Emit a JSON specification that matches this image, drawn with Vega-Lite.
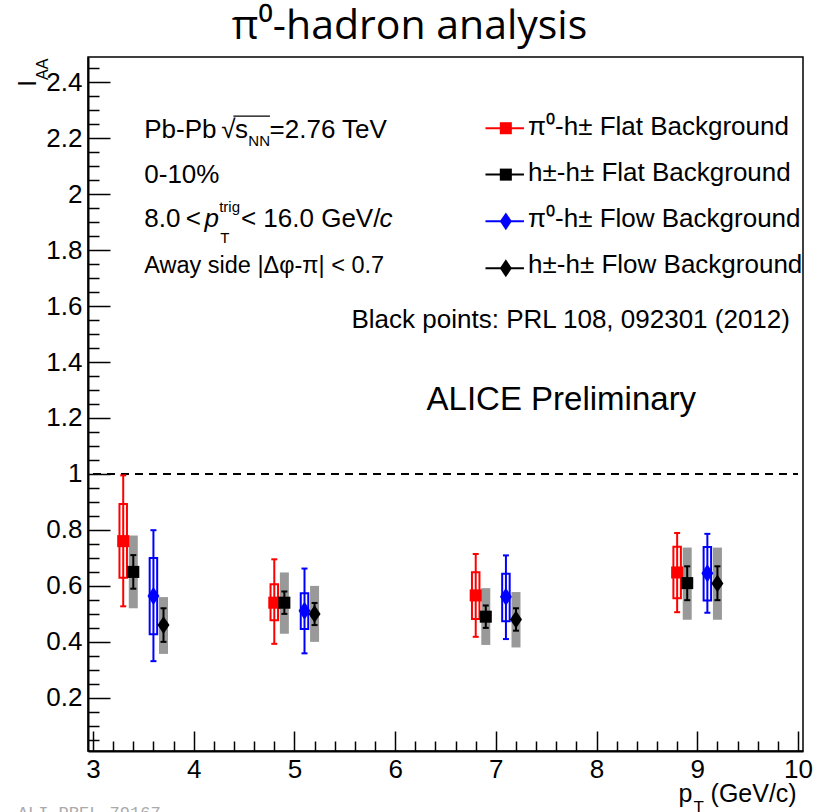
{
  "$schema": "https://vega.github.io/schema/vega-lite/v6.json",
  "width": 715,
  "height": 694,
  "autosize": {"type": "none"},
  "padding": {"left": 88, "top": 57, "right": 14, "bottom": 61},
  "background": "white",
  "config": {
    "view": {"stroke": "#000000", "strokeWidth": 1.5},
    "font": "Liberation Sans"
  },
  "datasets": {
    "pts": [
      {"series": "π⁰-h± Flat Background", "pt": 3.3, "iaa": 0.76, "stat_lo": 0.527, "stat_hi": 0.995, "sys_lo": 0.629, "sys_hi": 0.893},
      {"series": "π⁰-h± Flat Background", "pt": 4.8, "iaa": 0.54, "stat_lo": 0.393, "stat_hi": 0.695, "sys_lo": 0.477, "sys_hi": 0.606},
      {"series": "π⁰-h± Flat Background", "pt": 6.8, "iaa": 0.566, "stat_lo": 0.418, "stat_hi": 0.714, "sys_lo": 0.482, "sys_hi": 0.649},
      {"series": "π⁰-h± Flat Background", "pt": 8.8, "iaa": 0.648, "stat_lo": 0.506, "stat_hi": 0.789, "sys_lo": 0.556, "sys_hi": 0.74},
      {"series": "h±-h± Flat Background", "pt": 3.4, "iaa": 0.65, "stat_lo": 0.59, "stat_hi": 0.71, "sys_lo": 0.52, "sys_hi": 0.78},
      {"series": "h±-h± Flat Background", "pt": 4.9, "iaa": 0.54, "stat_lo": 0.5, "stat_hi": 0.58, "sys_lo": 0.429, "sys_hi": 0.648},
      {"series": "h±-h± Flat Background", "pt": 6.9, "iaa": 0.49, "stat_lo": 0.45, "stat_hi": 0.53, "sys_lo": 0.389, "sys_hi": 0.592},
      {"series": "h±-h± Flat Background", "pt": 8.9, "iaa": 0.61, "stat_lo": 0.549, "stat_hi": 0.67, "sys_lo": 0.479, "sys_hi": 0.737},
      {"series": "π⁰-h± Flow Background", "pt": 3.6, "iaa": 0.564, "stat_lo": 0.331, "stat_hi": 0.799, "sys_lo": 0.427, "sys_hi": 0.7},
      {"series": "π⁰-h± Flow Background", "pt": 5.1, "iaa": 0.511, "stat_lo": 0.359, "stat_hi": 0.662, "sys_lo": 0.446, "sys_hi": 0.574},
      {"series": "π⁰-h± Flow Background", "pt": 7.1, "iaa": 0.561, "stat_lo": 0.41, "stat_hi": 0.709, "sys_lo": 0.474, "sys_hi": 0.643},
      {"series": "π⁰-h± Flow Background", "pt": 9.1, "iaa": 0.645, "stat_lo": 0.504, "stat_hi": 0.786, "sys_lo": 0.548, "sys_hi": 0.739},
      {"series": "h±-h± Flow Background", "pt": 3.7, "iaa": 0.46, "stat_lo": 0.4, "stat_hi": 0.52, "sys_lo": 0.357, "sys_hi": 0.56},
      {"series": "h±-h± Flow Background", "pt": 5.2, "iaa": 0.5, "stat_lo": 0.46, "stat_hi": 0.539, "sys_lo": 0.4, "sys_hi": 0.6},
      {"series": "h±-h± Flow Background", "pt": 7.2, "iaa": 0.48, "stat_lo": 0.44, "stat_hi": 0.52, "sys_lo": 0.38, "sys_hi": 0.578},
      {"series": "h±-h± Flow Background", "pt": 9.2, "iaa": 0.609, "stat_lo": 0.549, "stat_hi": 0.67, "sys_lo": 0.479, "sys_hi": 0.737}
    ]
  },
  "data": {"name": "pts"},
  "resolve": {"axis": {"x": "independent", "y": "independent"}},
  "layer": [
    {
      "mark": {"type": "point", "opacity": 0},
      "encoding": {
        "x": {"field": "pt", "type": "quantitative", "scale": {"domain": [3, 10], "nice": false, "zero": false},
          "axis": {"orient": "bottom", "values": [3, 4, 5, 6, 7, 8, 9, 10], "ticks": false, "domain": true, "domainColor": "#000000", "domainWidth": 2, "grid": false, "title": null, "labelFont": "Liberation Sans", "labelFontSize": 26, "labelColor": "#000000", "labelPadding": 5, "labelFlush": false, "labelOverlap": false}},
        "y": {"field": "iaa", "type": "quantitative", "scale": {"domain": [0.01, 2.49], "nice": false, "zero": false},
          "axis": {"orient": "left", "values": [0.2, 0.4, 0.6, 0.8, 1, 1.2, 1.4, 1.6, 1.8, 2, 2.2, 2.4], "format": "~g", "ticks": false, "domain": true, "domainColor": "#000000", "domainWidth": 2, "grid": false, "title": null, "labelFont": "Liberation Sans", "labelFontSize": 26, "labelColor": "#000000", "labelPadding": 6, "labelFlush": false, "labelOverlap": false}}
      }
    },
    {
      "mark": {"type": "point", "opacity": 0},
      "encoding": {
        "x": {"field": "pt", "type": "quantitative",
          "axis": {"orient": "bottom", "values": [3, 4, 5, 6, 7, 8, 9, 10], "labels": false, "domain": false, "ticks": true, "tickSize": -20, "tickWidth": 1.5, "tickColor": "#000000", "grid": false, "title": null}},
        "y": {"field": "iaa", "type": "quantitative",
          "axis": {"orient": "left", "values": [0.2, 0.4, 0.6, 0.8, 1, 1.2, 1.4, 1.6, 1.8, 2, 2.2, 2.4], "labels": false, "domain": false, "ticks": true, "tickSize": -22, "tickWidth": 1.5, "tickColor": "#000000", "grid": false, "title": null}}
      }
    },
    {
      "mark": {"type": "point", "opacity": 0},
      "encoding": {
        "x": {"field": "pt", "type": "quantitative",
          "axis": {"orient": "bottom", "values": [3.2, 3.4, 3.6, 3.8, 4.2, 4.4, 4.6, 4.8, 5.2, 5.4, 5.6, 5.8, 6.2, 6.4, 6.6, 6.8, 7.2, 7.4, 7.6, 7.8, 8.2, 8.4, 8.6, 8.8, 9.2, 9.4, 9.6, 9.8], "labels": false, "domain": false, "ticks": true, "tickSize": -10, "tickWidth": 1.5, "tickColor": "#000000", "grid": false, "title": null}},
        "y": {"field": "iaa", "type": "quantitative",
          "axis": {"orient": "left", "values": [0.05, 0.1, 0.15, 0.25, 0.3, 0.35, 0.45, 0.5, 0.55, 0.65, 0.7, 0.75, 0.85, 0.9, 0.95, 1.05, 1.1, 1.15, 1.25, 1.3, 1.35, 1.45, 1.5, 1.55, 1.65, 1.7, 1.75, 1.85, 1.9, 1.95, 2.05, 2.1, 2.15, 2.25, 2.3, 2.35, 2.45], "labels": false, "domain": false, "ticks": true, "tickSize": -11, "tickWidth": 1.5, "tickColor": "#000000", "grid": false, "title": null}}
      }
    },
    {
      "data": {"values": [{}]},
      "mark": {"type": "rule", "color": "#000000", "strokeWidth": 2, "strokeDash": [8, 6]},
      "encoding": {
        "x": {"datum": 3, "type": "quantitative", "axis": null},
        "x2": {"datum": 10},
        "y": {"datum": 1, "type": "quantitative", "axis": null}
      }
    },
    {
      "transform": [{"filter": {"field": "series", "oneOf": ["π⁰-h± Flat Background", "π⁰-h± Flow Background"]}}],
      "mark": {"type": "bar", "width": 7.5, "filled": false, "strokeWidth": 2},
      "encoding": {
        "x": {"field": "pt", "type": "quantitative", "axis": null},
        "y": {"field": "sys_lo", "type": "quantitative", "axis": null},
        "y2": {"field": "sys_hi"},
        "color": {"field": "series", "type": "nominal", "legend": null,
          "scale": {"domain": ["π⁰-h± Flat Background", "h±-h± Flat Background", "π⁰-h± Flow Background", "h±-h± Flow Background"], "range": ["#ff0000", "#000000", "#0000ff", "#000000"]}}
      }
    },
    {
      "transform": [{"filter": {"field": "series", "oneOf": ["h±-h± Flat Background", "h±-h± Flow Background"]}}],
      "mark": {"type": "bar", "width": 9, "color": "#999999"},
      "encoding": {
        "x": {"field": "pt", "type": "quantitative", "axis": null},
        "y": {"field": "sys_lo", "type": "quantitative", "axis": null},
        "y2": {"field": "sys_hi"}
      }
    },
    {
      "mark": {"type": "rule", "strokeWidth": 2},
      "encoding": {
        "x": {"field": "pt", "type": "quantitative", "axis": null},
        "y": {"field": "stat_lo", "type": "quantitative", "axis": null},
        "y2": {"field": "stat_hi"},
        "color": {"field": "series", "type": "nominal", "legend": null}
      }
    },
    {
      "transform": [{"fold": ["stat_lo", "stat_hi"], "as": ["end", "val"]}],
      "mark": {"type": "tick", "orient": "horizontal", "size": 6, "thickness": 2, "opacity": 1},
      "encoding": {
        "x": {"field": "pt", "type": "quantitative", "axis": null},
        "y": {"field": "val", "type": "quantitative", "axis": null},
        "color": {"field": "series", "type": "nominal", "legend": null}
      }
    },
    {
      "transform": [{"filter": {"field": "series", "oneOf": ["π⁰-h± Flat Background", "h±-h± Flat Background"]}}],
      "mark": {"type": "point", "filled": true, "shape": "square", "size": 145, "opacity": 1},
      "encoding": {
        "x": {"field": "pt", "type": "quantitative", "axis": null},
        "y": {"field": "iaa", "type": "quantitative", "axis": null},
        "color": {"field": "series", "type": "nominal", "legend": null}
      }
    },
    {
      "transform": [{"filter": {"field": "series", "oneOf": ["π⁰-h± Flow Background", "h±-h± Flow Background"]}}],
      "mark": {"type": "point", "filled": true, "shape": "M0,-1L0.67,0L0,1L-0.67,0Z", "size": 320, "opacity": 1},
      "encoding": {
        "x": {"field": "pt", "type": "quantitative", "axis": null},
        "y": {"field": "iaa", "type": "quantitative", "axis": null},
        "color": {"field": "series", "type": "nominal", "legend": null}
      }
    },
    {"data": {"values": [{}]}, "mark": {"type": "rule", "color": "#ff0000", "strokeWidth": 2},
      "encoding": {"x": {"datum": 6.897, "type": "quantitative", "axis": null}, "x2": {"datum": 7.279}, "y": {"datum": 2.2355, "type": "quantitative", "axis": null}}},
    {"data": {"values": [{}]}, "mark": {"type": "rule", "color": "#000000", "strokeWidth": 2},
      "encoding": {"x": {"datum": 6.897, "type": "quantitative", "axis": null}, "x2": {"datum": 7.279}, "y": {"datum": 2.0697, "type": "quantitative", "axis": null}}},
    {"data": {"values": [{}]}, "mark": {"type": "rule", "color": "#0000ff", "strokeWidth": 2},
      "encoding": {"x": {"datum": 6.897, "type": "quantitative", "axis": null}, "x2": {"datum": 7.279}, "y": {"datum": 1.9028, "type": "quantitative", "axis": null}}},
    {"data": {"values": [{}]}, "mark": {"type": "rule", "color": "#000000", "strokeWidth": 2},
      "encoding": {"x": {"datum": 6.897, "type": "quantitative", "axis": null}, "x2": {"datum": 7.279}, "y": {"datum": 1.7352, "type": "quantitative", "axis": null}}},
    {"data": {"values": [{}]}, "mark": {"type": "point", "filled": true, "shape": "square", "size": 145, "opacity": 1, "color": "#ff0000"},
      "encoding": {"x": {"datum": 7.099, "type": "quantitative", "axis": null}, "y": {"datum": 2.2355, "type": "quantitative", "axis": null}}},
    {"data": {"values": [{}]}, "mark": {"type": "point", "filled": true, "shape": "square", "size": 145, "opacity": 1, "color": "#000000"},
      "encoding": {"x": {"datum": 7.099, "type": "quantitative", "axis": null}, "y": {"datum": 2.0697, "type": "quantitative", "axis": null}}},
    {"data": {"values": [{}]}, "mark": {"type": "point", "filled": true, "shape": "M0,-1L0.67,0L0,1L-0.67,0Z", "size": 320, "opacity": 1, "color": "#0000ff"},
      "encoding": {"x": {"datum": 7.099, "type": "quantitative", "axis": null}, "y": {"datum": 1.9028, "type": "quantitative", "axis": null}}},
    {"data": {"values": [{}]}, "mark": {"type": "point", "filled": true, "shape": "M0,-1L0.67,0L0,1L-0.67,0Z", "size": 320, "opacity": 1, "color": "#000000"},
      "encoding": {"x": {"datum": 7.099, "type": "quantitative", "axis": null}, "y": {"datum": 1.7352, "type": "quantitative", "axis": null}}},
    {"data": {"values": [{}]}, "mark": {"type": "text", "text": "π⁰-h± Flat Background", "align": "left", "baseline": "alphabetic", "font": "Liberation Sans", "fontSize": 26, "color": "#000000"},
      "encoding": {"x": {"datum": 7.32, "type": "quantitative", "axis": null}, "y": {"datum": 2.2116, "type": "quantitative", "axis": null}}},
    {"data": {"values": [{}]}, "mark": {"type": "text", "text": "h±-h± Flat Background", "align": "left", "baseline": "alphabetic", "font": "Liberation Sans", "fontSize": 26, "color": "#000000"},
      "encoding": {"x": {"datum": 7.32, "type": "quantitative", "axis": null}, "y": {"datum": 2.0456, "type": "quantitative", "axis": null}}},
    {"data": {"values": [{}]}, "mark": {"type": "text", "text": "π⁰-h± Flow Background", "align": "left", "baseline": "alphabetic", "font": "Liberation Sans", "fontSize": 26, "color": "#000000"},
      "encoding": {"x": {"datum": 7.32, "type": "quantitative", "axis": null}, "y": {"datum": 1.8839, "type": "quantitative", "axis": null}}},
    {"data": {"values": [{}]}, "mark": {"type": "text", "text": "h±-h± Flow Background", "align": "left", "baseline": "alphabetic", "font": "Liberation Sans", "fontSize": 26, "color": "#000000"},
      "encoding": {"x": {"datum": 7.32, "type": "quantitative", "axis": null}, "y": {"datum": 1.7173, "type": "quantitative", "axis": null}}},
    {"data": {"values": [{}]}, "mark": {"type": "text", "text": "π⁰-hadron analysis", "align": "center", "baseline": "alphabetic", "font": "Open Sans", "fontSize": 41, "color": "#000000"},
      "encoding": {"x": {"datum": 6.143, "type": "quantitative", "axis": null}, "y": {"datum": 2.553, "type": "quantitative", "axis": null}}},
    {"data": {"values": [{}]}, "mark": {"type": "text", "text": "Pb-Pb", "align": "left", "baseline": "alphabetic", "font": "Liberation Sans", "fontSize": 26, "color": "#000000"},
      "encoding": {"x": {"datum": 3.509, "type": "quantitative", "axis": null}, "y": {"datum": 2.2008, "type": "quantitative", "axis": null}}},
    {"data": {"values": [{}]}, "mark": {"type": "text", "text": "√", "align": "left", "baseline": "alphabetic", "font": "Liberation Sans", "fontSize": 26, "color": "#000000"},
      "encoding": {"x": {"datum": 4.273, "type": "quantitative", "axis": null}, "y": {"datum": 2.2008, "type": "quantitative", "axis": null}}},
    {"data": {"values": [{}]}, "mark": {"type": "text", "text": "s", "align": "left", "baseline": "alphabetic", "font": "Liberation Sans", "fontSize": 26, "color": "#000000"},
      "encoding": {"x": {"datum": 4.41, "type": "quantitative", "axis": null}, "y": {"datum": 2.2008, "type": "quantitative", "axis": null}}},
    {"data": {"values": [{}]}, "mark": {"type": "text", "text": "NN", "align": "left", "baseline": "alphabetic", "font": "Liberation Sans", "fontSize": 15, "color": "#000000"},
      "encoding": {"x": {"datum": 4.542, "type": "quantitative", "axis": null}, "y": {"datum": 2.1705, "type": "quantitative", "axis": null}}},
    {"data": {"values": [{}]}, "mark": {"type": "text", "text": "=2.76 TeV", "align": "left", "baseline": "alphabetic", "font": "Liberation Sans", "fontSize": 26, "color": "#000000"},
      "encoding": {"x": {"datum": 4.753, "type": "quantitative", "axis": null}, "y": {"datum": 2.2008, "type": "quantitative", "axis": null}}},
    {"data": {"values": [{}]}, "mark": {"type": "rule", "color": "#000000", "strokeWidth": 1.2},
      "encoding": {"x": {"datum": 4.394, "type": "quantitative", "axis": null}, "x2": {"datum": 4.757}, "y": {"datum": 2.279, "type": "quantitative", "axis": null}}},
    {"data": {"values": [{}]}, "mark": {"type": "text", "text": "0-10%", "align": "left", "baseline": "alphabetic", "font": "Liberation Sans", "fontSize": 26, "color": "#000000"},
      "encoding": {"x": {"datum": 3.509, "type": "quantitative", "axis": null}, "y": {"datum": 2.0401, "type": "quantitative", "axis": null}}},
    {"data": {"values": [{}]}, "mark": {"type": "text", "text": "8.0", "align": "left", "baseline": "alphabetic", "font": "Liberation Sans", "fontSize": 26, "color": "#000000"},
      "encoding": {"x": {"datum": 3.509, "type": "quantitative", "axis": null}, "y": {"datum": 1.8828, "type": "quantitative", "axis": null}}},
    {"data": {"values": [{}]}, "mark": {"type": "text", "text": "<", "align": "left", "baseline": "alphabetic", "font": "Liberation Sans", "fontSize": 26, "color": "#000000"},
      "encoding": {"x": {"datum": 3.92, "type": "quantitative", "axis": null}, "y": {"datum": 1.8828, "type": "quantitative", "axis": null}}},
    {"data": {"values": [{}]}, "mark": {"type": "text", "text": "p", "align": "left", "baseline": "alphabetic", "font": "Liberation Sans", "fontStyle": "italic", "fontSize": 26, "color": "#000000"},
      "encoding": {"x": {"datum": 4.106, "type": "quantitative", "axis": null}, "y": {"datum": 1.8828, "type": "quantitative", "axis": null}}},
    {"data": {"values": [{}]}, "mark": {"type": "text", "text": "trig", "align": "left", "baseline": "alphabetic", "font": "Liberation Sans", "fontSize": 15, "color": "#000000"},
      "encoding": {"x": {"datum": 4.253, "type": "quantitative", "axis": null}, "y": {"datum": 1.936, "type": "quantitative", "axis": null}}},
    {"data": {"values": [{}]}, "mark": {"type": "text", "text": "T", "align": "left", "baseline": "alphabetic", "font": "Liberation Sans", "fontSize": 15, "color": "#000000"},
      "encoding": {"x": {"datum": 4.263, "type": "quantitative", "axis": null}, "y": {"datum": 1.8256, "type": "quantitative", "axis": null}}},
    {"data": {"values": [{}]}, "mark": {"type": "text", "text": "< 16.0 GeV/", "align": "left", "baseline": "alphabetic", "font": "Liberation Sans", "fontSize": 26, "color": "#000000"},
      "encoding": {"x": {"datum": 4.469, "type": "quantitative", "axis": null}, "y": {"datum": 1.8828, "type": "quantitative", "axis": null}}},
    {"data": {"values": [{}]}, "mark": {"type": "text", "text": "c", "align": "left", "baseline": "alphabetic", "font": "Liberation Sans", "fontStyle": "italic", "fontSize": 26, "color": "#000000"},
      "encoding": {"x": {"datum": 5.845, "type": "quantitative", "axis": null}, "y": {"datum": 1.8828, "type": "quantitative", "axis": null}}},
    {"data": {"values": [{}]}, "mark": {"type": "text", "text": "Away side |Δφ-π| < 0.7", "align": "left", "baseline": "alphabetic", "font": "Liberation Sans", "fontSize": 23.5, "color": "#000000"},
      "encoding": {"x": {"datum": 3.509, "type": "quantitative", "axis": null}, "y": {"datum": 1.7184, "type": "quantitative", "axis": null}}},
    {"data": {"values": [{}]}, "mark": {"type": "text", "text": "Black points: PRL 108, 092301 (2012)", "align": "right", "baseline": "alphabetic", "font": "Liberation Sans", "fontSize": 26, "color": "#000000"},
      "encoding": {"x": {"datum": 9.92, "type": "quantitative", "axis": null}, "y": {"datum": 1.5207, "type": "quantitative", "axis": null}}},
    {"data": {"values": [{}]}, "mark": {"type": "text", "text": "ALICE Preliminary", "align": "center", "baseline": "alphabetic", "font": "Liberation Sans", "fontSize": 33, "color": "#000000"},
      "encoding": {"x": {"datum": 7.65, "type": "quantitative", "axis": null}, "y": {"datum": 1.2287, "type": "quantitative", "axis": null}}},
    {"data": {"values": [{}]}, "mark": {"type": "text", "text": "I", "align": "left", "baseline": "alphabetic", "angle": 270, "font": "Liberation Sans", "fontSize": 26, "color": "#000000"},
      "encoding": {"x": {"datum": 2.432, "type": "quantitative", "axis": null}, "y": {"datum": 2.383, "type": "quantitative", "axis": null}}},
    {"data": {"values": [{}]}, "mark": {"type": "text", "text": "AA", "align": "left", "baseline": "alphabetic", "angle": 270, "font": "Liberation Sans", "fontSize": 16, "color": "#000000"},
      "encoding": {"x": {"datum": 2.55, "type": "quantitative", "axis": null}, "y": {"datum": 2.408, "type": "quantitative", "axis": null}}},
    {"data": {"values": [{}]}, "mark": {"type": "text", "text": "p", "align": "left", "baseline": "alphabetic", "font": "Liberation Sans", "fontSize": 25, "color": "#000000"},
      "encoding": {"x": {"datum": 8.813, "type": "quantitative", "axis": null}, "y": {"datum": -0.1723, "type": "quantitative", "axis": null}}},
    {"data": {"values": [{}]}, "mark": {"type": "text", "text": "T", "align": "left", "baseline": "alphabetic", "font": "Liberation Sans", "fontSize": 17, "color": "#000000"},
      "encoding": {"x": {"datum": 8.962, "type": "quantitative", "axis": null}, "y": {"datum": -0.2116, "type": "quantitative", "axis": null}}},
    {"data": {"values": [{}]}, "mark": {"type": "text", "text": "(GeV/c)", "align": "right", "baseline": "alphabetic", "font": "Liberation Sans", "fontSize": 25, "color": "#000000"},
      "encoding": {"x": {"datum": 9.987, "type": "quantitative", "axis": null}, "y": {"datum": -0.1723, "type": "quantitative", "axis": null}}},
    {"data": {"values": [{}]}, "mark": {"type": "text", "text": "ALI-PREL-79167", "align": "left", "baseline": "alphabetic", "font": "Liberation Mono", "fontSize": 17, "color": "#aaaaaa"},
      "encoding": {"x": {"datum": 2.253, "type": "quantitative", "axis": null}, "y": {"datum": -0.2295, "type": "quantitative", "axis": null}}}
  ]
}
